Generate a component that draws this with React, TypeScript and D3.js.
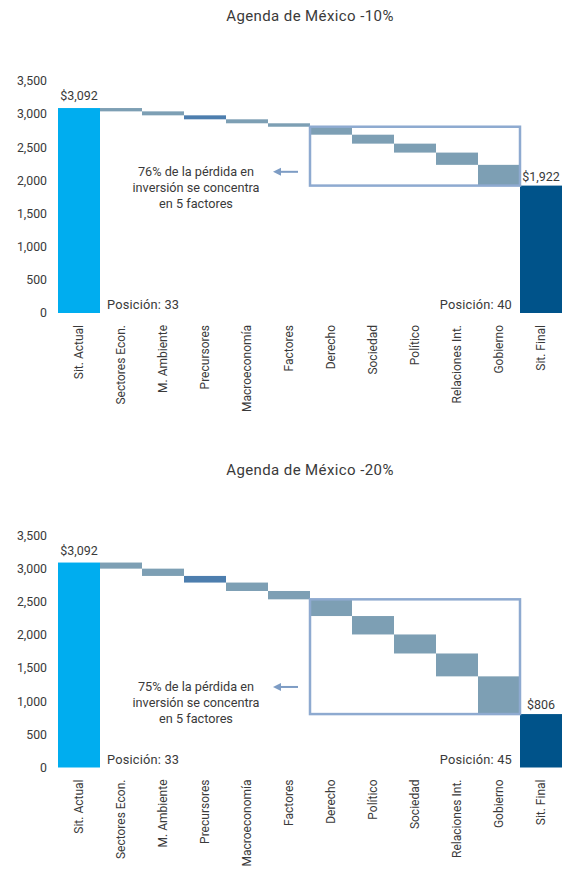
import React from "react";
import * as d3 from "d3";

const categoriesA = ["Sit. Actual", "Sectores Econ.", "M. Ambiente", "Precursores", "Macroeconomía", "Factores", "Derecho", "Sociedad", "Político", "Relaciones Int.", "Gobierno", "Sit. Final"];
const categoriesB = ["Sit. Actual", "Sectores Econ.", "M. Ambiente", "Precursores", "Macroeconomía", "Factores", "Derecho", "Político", "Sociedad", "Relaciones Int.", "Gobierno", "Sit. Final"];
const startValue = 3092;
const dropsA = [50, 60, 60, 60, 52, 120, 135, 135, 185, 313];
const dropsB = [92, 110, 100, 127, 126, 252, 278, 287, 345, 569];
const finalA = 1922;
const finalB = 806;
const yTicks = [0, 500, 1000, 1500, 2000, 2500, 3000, 3500];
const titleA = "Agenda de México -10%";
const titleB = "Agenda de México -20%";
const noteA = ["76% de la pérdida en", "inversión se concentra", "en 5 factores"];
const noteB = ["75% de la pérdida en", "inversión se concentra", "en 5 factores"];
const posStartA = "Posición: 33";
const posEndA = "Posición: 40";
const posStartB = "Posición: 33";
const posEndB = "Posición: 45";
const arrowValueA = 2130;
const arrowValueB = 1215;

const FONT = "Roboto, 'DejaVu Sans', sans-serif";
const TXT = "#3a3a3a";

type Props = {
  top: number;
  title: string;
  categories: string[];
  drops: number[];
  final: number;
  note: string[];
  posStart: string;
  posEnd: string;
  arrowValue: number;
};

function Waterfall({ top, title, categories, drops, final, note, posStart, posEnd, arrowValue }: Props) {
  const y0 = top + 313;
  const y = d3.scaleLinear().domain([0, 3500]).range([y0, y0 - 232]);
  const x = d3.scaleBand<string>().domain(categories).range([58, 562]).padding(0);
  const bw = x.bandwidth();

  const steps: { cat: string; from: number; to: number; i: number }[] = [];
  let cur = startValue;
  drops.forEach((d, i) => {
    steps.push({ cat: categories[i + 1], from: cur, to: cur - d, i });
    cur -= d;
  });
  const boxTopVal = steps[5].from;
  const boxX0 = x(categories[6])!;
  const boxX1 = x(categories[11])!;
  const ay = y(arrowValue);

  return (
    <g>
      <text x={310} y={top + 17} textAnchor="middle" dominantBaseline="middle" fontSize={15} letterSpacing={0.4} fill={TXT}>{title}</text>
      {yTicks.map((t) => (
        <text key={t} x={47} y={y(t)} dy="0.35em" textAnchor="end" fontSize={12.3} fill={TXT}>{d3.format(",")(t)}</text>
      ))}
      <rect x={x(categories[0])} y={y(startValue)} width={bw} height={y(0) - y(startValue)} fill="#00adef" />
      {steps.map((s) => (
        <rect key={s.cat} x={x(s.cat)} y={y(s.from)} width={bw} height={y(s.to) - y(s.from)} fill={s.cat === "Precursores" ? "#4d7eae" : "#7d9fb4"} />
      ))}
      <rect x={x(categories[11])} y={y(final)} width={bw} height={y(0) - y(final)} fill="#00538a" />
      <rect x={boxX0} y={y(boxTopVal)} width={boxX1 - boxX0} height={y(final) - y(boxTopVal)} fill="none" stroke="#8eaad0" strokeWidth={2.5} />
      <text x={x(categories[0])! + bw / 2} y={y(startValue) - 8} textAnchor="middle" fontSize={12.5} fill={TXT}>{"$" + d3.format(",")(startValue)}</text>
      <text x={x(categories[11])! + bw / 2} y={y(final) - 5} textAnchor="middle" fontSize={12.5} fill={TXT}>{"$" + d3.format(",")(final)}</text>
      <text x={x(categories[0])! + bw + 7} y={y(0) - 4} fontSize={12.8} letterSpacing={0.2} fill={TXT}>{posStart}</text>
      <text x={boxX1 - 8} y={y(0) - 4} textAnchor="end" fontSize={12.8} letterSpacing={0.2} fill={TXT}>{posEnd}</text>
      {note.map((ln, i) => (
        <text key={i} x={196} y={ay + i * 16} dy="0.35em" textAnchor="middle" fontSize={12.7} fill={TXT}>{ln}</text>
      ))}
      <line x1={boxX0 - 12} x2={boxX0 - 30} y1={ay} y2={ay} stroke="#7d9cc4" strokeWidth={2} />
      <path d={`M${boxX0 - 37},${ay} L${boxX0 - 29},${ay - 4} L${boxX0 - 29},${ay + 4} Z`} fill="#7d9cc4" />
      {categories.map((c) => (
        <text key={c} transform={`translate(${x(c)! + bw / 2},${y0 + 12}) rotate(-90)`} textAnchor="end" dy="0.35em" fontSize={12} fill={TXT}>{c}</text>
      ))}
    </g>
  );
}

export default function App() {
  return (
    <svg width={563} height={873} style={{ position: "absolute", left: 0, top: 0, fontFamily: FONT }}>
      <rect width={563} height={873} fill="#fff" />
      <Waterfall top={0} title={titleA} categories={categoriesA} drops={dropsA} final={finalA} note={noteA} posStart={posStartA} posEnd={posEndA} arrowValue={arrowValueA} />
      <Waterfall top={454.5} title={titleB} categories={categoriesB} drops={dropsB} final={finalB} note={noteB} posStart={posStartB} posEnd={posEndB} arrowValue={arrowValueB} />
    </svg>
  );
}
